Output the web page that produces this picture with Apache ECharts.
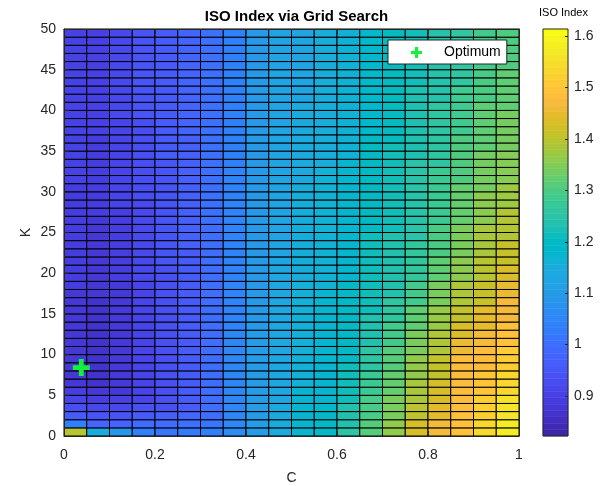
<!DOCTYPE html>
<html>
<head>
<meta charset="utf-8">
<script src="https://cdn.jsdelivr.net/npm/echarts@6/dist/echarts.min.js"></script>
<style>
  html, body { margin: 0; padding: 0; background: #fff; }
  #chart { width: 605px; height: 486px; }
</style>
</head>
<body>
<div id="chart"></div>
<script>
// Grid edges for C (columns) and K (rows)
const cEdges = [0, 0.05, 0.1, 0.15, 0.2, 0.25, 0.3, 0.35, 0.4, 0.45, 0.5,
                0.55, 0.6, 0.65, 0.7, 0.75, 0.8, 0.85, 0.9, 0.95, 1];
const kEdges = [0, 1, 2, 3, 4, 5, 6, 7, 8, 9, 10, 11, 12, 13, 14, 15, 16, 17, 18, 19, 20,
                21, 22, 23, 24, 25, 26, 27, 28, 29, 30, 31, 32, 33, 34, 35, 36, 37, 38, 39, 40,
                41, 42, 43, 44, 45, 46, 47, 48, 49, 50];

// Colour limits of the ISO index and colorbar tick values
const isoRange = [0.822, 1.614];
const cbTicks = [0.9, 1, 1.1, 1.2, 1.3, 1.4, 1.5, 1.6];

// Best (C, K) found by the search
const optimum = [0.038, 8.4];

// ISO index, one row per K cell (K = 0 .. 49), one value per C cell
const isoIndex = [
  [1.40, 1.14, 1.09, 1.03, 1.01, 1.02, 1.03, 1.06, 1.10, 1.14, 1.175, 1.19, 1.25, 1.31, 1.365, 1.43, 1.47, 1.497, 1.545, 1.585],
  [1.03, 0.975, 0.975, 0.99, 0.99, 1.00, 1.015, 1.05, 1.10, 1.14, 1.175, 1.19, 1.235, 1.31, 1.365, 1.43, 1.47, 1.497, 1.545, 1.585],
  [0.955, 0.94, 0.94, 0.955, 0.965, 0.98, 0.995, 1.05, 1.10, 1.14, 1.175, 1.19, 1.235, 1.295, 1.345, 1.405, 1.445, 1.497, 1.525, 1.565],
  [0.925, 0.91, 0.915, 0.93, 0.93, 0.955, 0.995, 1.05, 1.10, 1.14, 1.175, 1.19, 1.235, 1.295, 1.345, 1.405, 1.445, 1.485, 1.525, 1.565],
  [0.905, 0.89, 0.895, 0.905, 0.93, 0.955, 0.995, 1.05, 1.10, 1.13, 1.175, 1.175, 1.215, 1.295, 1.345, 1.385, 1.43, 1.485, 1.525, 1.565],
  [0.89, 0.875, 0.878, 0.905, 0.93, 0.955, 0.995, 1.05, 1.10, 1.13, 1.175, 1.175, 1.215, 1.28, 1.325, 1.385, 1.43, 1.485, 1.505, 1.54],
  [0.875, 0.862, 0.878, 0.905, 0.93, 0.955, 0.995, 1.05, 1.10, 1.13, 1.16, 1.175, 1.215, 1.28, 1.325, 1.385, 1.43, 1.485, 1.505, 1.54],
  [0.875, 0.862, 0.878, 0.905, 0.93, 0.955, 0.995, 1.05, 1.10, 1.13, 1.16, 1.175, 1.215, 1.28, 1.325, 1.365, 1.41, 1.485, 1.505, 1.54],
  [0.875, 0.862, 0.878, 0.905, 0.93, 0.955, 0.995, 1.05, 1.10, 1.13, 1.16, 1.175, 1.215, 1.255, 1.31, 1.365, 1.41, 1.485, 1.485, 1.52],
  [0.875, 0.862, 0.878, 0.905, 0.93, 0.955, 0.995, 1.05, 1.10, 1.13, 1.16, 1.175, 1.195, 1.255, 1.31, 1.365, 1.41, 1.485, 1.485, 1.52],
  [0.875, 0.862, 0.878, 0.905, 0.93, 0.955, 0.995, 1.05, 1.10, 1.13, 1.16, 1.175, 1.195, 1.255, 1.31, 1.345, 1.39, 1.46, 1.485, 1.52],
  [0.875, 0.862, 0.878, 0.905, 0.93, 0.955, 0.995, 1.05, 1.10, 1.13, 1.16, 1.175, 1.195, 1.235, 1.29, 1.345, 1.39, 1.46, 1.47, 1.497],
  [0.875, 0.862, 0.878, 0.905, 0.93, 0.955, 0.995, 1.05, 1.10, 1.13, 1.16, 1.175, 1.195, 1.235, 1.29, 1.345, 1.39, 1.435, 1.47, 1.497],
  [0.875, 0.862, 0.878, 0.905, 0.93, 0.955, 0.995, 1.043, 1.093, 1.13, 1.16, 1.175, 1.195, 1.235, 1.29, 1.32, 1.37, 1.435, 1.45, 1.497],
  [0.875, 0.862, 0.878, 0.905, 0.93, 0.955, 0.995, 1.043, 1.093, 1.13, 1.16, 1.175, 1.195, 1.235, 1.26, 1.32, 1.37, 1.41, 1.45, 1.472],
  [0.875, 0.862, 0.878, 0.905, 0.93, 0.955, 0.995, 1.043, 1.093, 1.13, 1.16, 1.175, 1.195, 1.215, 1.26, 1.32, 1.37, 1.41, 1.45, 1.472],
  [0.875, 0.862, 0.878, 0.905, 0.93, 0.955, 0.995, 1.043, 1.093, 1.13, 1.16, 1.175, 1.195, 1.215, 1.26, 1.29, 1.345, 1.39, 1.415, 1.472],
  [0.875, 0.875, 0.878, 0.905, 0.93, 0.955, 0.995, 1.043, 1.093, 1.13, 1.16, 1.175, 1.195, 1.215, 1.235, 1.29, 1.345, 1.39, 1.415, 1.455],
  [0.888, 0.875, 0.878, 0.905, 0.93, 0.955, 0.995, 1.043, 1.093, 1.13, 1.16, 1.162, 1.195, 1.215, 1.235, 1.29, 1.345, 1.39, 1.415, 1.455],
  [0.888, 0.875, 0.89, 0.915, 0.93, 0.955, 0.995, 1.043, 1.093, 1.13, 1.15, 1.162, 1.178, 1.215, 1.235, 1.265, 1.32, 1.36, 1.40, 1.435],
  [0.888, 0.875, 0.89, 0.915, 0.93, 0.955, 0.995, 1.043, 1.093, 1.13, 1.15, 1.162, 1.178, 1.215, 1.235, 1.265, 1.32, 1.36, 1.40, 1.435],
  [0.888, 0.875, 0.89, 0.915, 0.942, 0.955, 0.995, 1.043, 1.093, 1.12, 1.15, 1.162, 1.178, 1.215, 1.235, 1.265, 1.32, 1.36, 1.40, 1.415],
  [0.888, 0.875, 0.89, 0.915, 0.942, 0.955, 0.995, 1.043, 1.093, 1.12, 1.15, 1.162, 1.178, 1.215, 1.235, 1.265, 1.30, 1.345, 1.385, 1.415],
  [0.888, 0.875, 0.89, 0.915, 0.942, 0.965, 0.995, 1.043, 1.093, 1.12, 1.15, 1.162, 1.178, 1.215, 1.235, 1.265, 1.30, 1.345, 1.385, 1.415],
  [0.888, 0.875, 0.89, 0.915, 0.942, 0.965, 0.995, 1.043, 1.093, 1.12, 1.15, 1.162, 1.178, 1.215, 1.235, 1.245, 1.30, 1.345, 1.385, 1.395],
  [0.888, 0.875, 0.89, 0.915, 0.942, 0.965, 0.995, 1.043, 1.093, 1.12, 1.15, 1.162, 1.178, 1.20, 1.22, 1.245, 1.30, 1.345, 1.385, 1.395],
  [0.888, 0.875, 0.89, 0.915, 0.942, 0.965, 1.003, 1.043, 1.093, 1.12, 1.15, 1.162, 1.178, 1.20, 1.22, 1.245, 1.28, 1.325, 1.36, 1.395],
  [0.888, 0.888, 0.89, 0.915, 0.942, 0.965, 1.003, 1.043, 1.093, 1.12, 1.15, 1.162, 1.178, 1.20, 1.22, 1.245, 1.28, 1.325, 1.36, 1.395],
  [0.888, 0.888, 0.905, 0.915, 0.942, 0.965, 1.003, 1.043, 1.093, 1.12, 1.15, 1.162, 1.178, 1.20, 1.22, 1.245, 1.28, 1.325, 1.36, 1.375],
  [0.888, 0.888, 0.905, 0.928, 0.942, 0.965, 1.003, 1.043, 1.093, 1.12, 1.15, 1.162, 1.178, 1.20, 1.22, 1.245, 1.28, 1.325, 1.36, 1.375],
  [0.888, 0.888, 0.905, 0.928, 0.942, 0.965, 1.003, 1.043, 1.093, 1.12, 1.15, 1.162, 1.178, 1.20, 1.22, 1.245, 1.28, 1.325, 1.34, 1.375],
  [0.90, 0.888, 0.905, 0.928, 0.942, 0.965, 1.003, 1.043, 1.093, 1.12, 1.138, 1.162, 1.178, 1.20, 1.22, 1.245, 1.28, 1.305, 1.34, 1.355],
  [0.90, 0.888, 0.905, 0.928, 0.942, 0.965, 1.003, 1.043, 1.093, 1.12, 1.138, 1.162, 1.178, 1.20, 1.22, 1.245, 1.28, 1.305, 1.34, 1.355],
  [0.90, 0.888, 0.905, 0.928, 0.942, 0.965, 1.003, 1.035, 1.093, 1.12, 1.138, 1.148, 1.178, 1.20, 1.22, 1.245, 1.258, 1.305, 1.34, 1.355],
  [0.90, 0.888, 0.905, 0.928, 0.955, 0.965, 1.003, 1.035, 1.093, 1.12, 1.138, 1.148, 1.165, 1.20, 1.22, 1.23, 1.258, 1.305, 1.34, 1.355],
  [0.90, 0.888, 0.905, 0.928, 0.955, 0.965, 1.003, 1.035, 1.093, 1.12, 1.138, 1.148, 1.165, 1.20, 1.22, 1.23, 1.258, 1.305, 1.32, 1.34],
  [0.90, 0.888, 0.905, 0.928, 0.955, 0.965, 1.003, 1.035, 1.093, 1.12, 1.138, 1.148, 1.165, 1.20, 1.205, 1.23, 1.258, 1.305, 1.32, 1.34],
  [0.90, 0.898, 0.905, 0.928, 0.955, 0.978, 1.003, 1.035, 1.093, 1.12, 1.138, 1.148, 1.165, 1.185, 1.205, 1.23, 1.258, 1.285, 1.32, 1.34],
  [0.90, 0.898, 0.905, 0.928, 0.955, 0.978, 1.003, 1.035, 1.093, 1.12, 1.138, 1.148, 1.165, 1.185, 1.205, 1.23, 1.258, 1.285, 1.32, 1.34],
  [0.90, 0.898, 0.915, 0.94, 0.955, 0.978, 1.003, 1.035, 1.093, 1.12, 1.138, 1.148, 1.165, 1.185, 1.205, 1.23, 1.258, 1.285, 1.32, 1.34],
  [0.90, 0.898, 0.915, 0.94, 0.955, 0.978, 1.003, 1.035, 1.093, 1.12, 1.138, 1.148, 1.165, 1.185, 1.205, 1.23, 1.258, 1.285, 1.32, 1.32],
  [0.90, 0.898, 0.915, 0.94, 0.955, 0.978, 1.003, 1.035, 1.093, 1.12, 1.128, 1.148, 1.165, 1.185, 1.205, 1.23, 1.24, 1.285, 1.30, 1.32],
  [0.90, 0.898, 0.915, 0.94, 0.955, 0.978, 1.003, 1.035, 1.093, 1.12, 1.128, 1.148, 1.165, 1.185, 1.205, 1.23, 1.24, 1.285, 1.30, 1.32],
  [0.90, 0.898, 0.915, 0.94, 0.955, 0.978, 1.003, 1.035, 1.093, 1.12, 1.128, 1.148, 1.165, 1.185, 1.205, 1.218, 1.24, 1.26, 1.30, 1.32],
  [0.90, 0.898, 0.915, 0.94, 0.955, 0.978, 1.003, 1.035, 1.093, 1.12, 1.128, 1.148, 1.165, 1.185, 1.205, 1.218, 1.24, 1.26, 1.30, 1.32],
  [0.90, 0.898, 0.915, 0.94, 0.955, 0.978, 1.003, 1.035, 1.093, 1.12, 1.128, 1.148, 1.165, 1.185, 1.205, 1.218, 1.24, 1.26, 1.29, 1.305],
  [0.90, 0.898, 0.915, 0.94, 0.955, 0.978, 1.003, 1.035, 1.093, 1.12, 1.128, 1.148, 1.165, 1.185, 1.205, 1.218, 1.24, 1.26, 1.29, 1.305],
  [0.90, 0.898, 0.915, 0.94, 0.955, 0.978, 1.003, 1.035, 1.093, 1.12, 1.128, 1.148, 1.165, 1.185, 1.205, 1.218, 1.24, 1.26, 1.29, 1.305],
  [0.90, 0.898, 0.915, 0.94, 0.955, 0.978, 1.003, 1.035, 1.093, 1.12, 1.128, 1.148, 1.165, 1.185, 1.205, 1.218, 1.24, 1.26, 1.29, 1.305],
  [0.90, 0.898, 0.915, 0.94, 0.955, 0.978, 1.003, 1.035, 1.093, 1.12, 1.128, 1.148, 1.165, 1.185, 1.205, 1.218, 1.24, 1.26, 1.29, 1.305]
];

// Parula colour map, 64 entries
const parula = [
  '#3e26a8', '#402ab4', '#422ebf', '#4332cb', '#4537d5', '#463cde', '#4741e5', '#4747eb',
  '#484df0', '#4852f4', '#4758f8', '#465efb', '#4563fd', '#4269fe', '#3e6fff', '#3875fe',
  '#327cfc', '#2f81fa', '#2d87f7', '#2d8cf3', '#2b91ef', '#2796eb', '#259be7', '#23a0e5',
  '#20a5e3', '#1ca9df', '#18addb', '#12b1d6', '#08b5d0', '#01b8ca', '#02bac3', '#0bbdbc',
  '#19bfb6', '#24c1ae', '#2cc4a7', '#31c69f', '#37c897', '#3fca8e', '#4acb84', '#57cc7a',
  '#64cd6f', '#72cd64', '#80cc59', '#8fcb4e', '#9dc943', '#abc739', '#b9c431', '#c5c22a',
  '#d1bf27', '#dcbd29', '#e6bb2d', '#efba36', '#f8ba3d', '#febe3c', '#fec338', '#fec934',
  '#fccf30', '#f9d62d', '#f7dc2a', '#f5e327', '#f5e924', '#f5ef20', '#f7f51b', '#f9fb14'
];

const FONT = "'Liberation Sans', Arial, Helvetica, sans-serif";
const INK = '#262626';
const PLUS = 'path://M5,0h4v5h5v4h-5v5h-4v-5h-5v-4h5z';
const GREEN = '#14f03c';

// Cells: [cLeft, kBottom, cRight, kTop, value]
const cells = [];
isoIndex.forEach((row, ki) => {
  row.forEach((v, ci) => {
    cells.push([cEdges[ci], kEdges[ki], cEdges[ci + 1], kEdges[ki + 1], v]);
  });
});

// Colorbar bands, one per colour map entry
const bandStep = (isoRange[1] - isoRange[0]) / parula.length;
const bands = parula.map((col, i) =>
  [0, isoRange[0] + i * bandStep, 1, isoRange[0] + (i + 1) * bandStep, i]);

function rectItem(api) {
  const p0 = api.coord([api.value(0), api.value(1)]);
  const p1 = api.coord([api.value(2), api.value(3)]);
  return { x: p0[0], y: p1[1], width: p1[0] - p0[0], height: p0[1] - p1[1] };
}

const boxAxis = (extra) => Object.assign({
  type: 'value', z: 5,
  axisLine: { show: true, onZero: false, lineStyle: { color: INK, width: 1 } },
  axisTick: { show: true, inside: true, length: 5, lineStyle: { color: INK } },
  axisLabel: { show: false },
  splitLine: { show: false }
}, extra);

const chart = echarts.init(document.getElementById('chart'));
chart.setOption({
  animation: false,
  backgroundColor: '#fff',
  textStyle: { fontFamily: FONT },
  title: {
    text: 'ISO Index via Grid Search',
    left: 291.5, top: 4, textAlign: 'center',
    textStyle: { fontFamily: FONT, fontSize: 15, fontWeight: 'bold', color: '#000' }
  },
  graphic: [{
    type: 'text', left: 539, top: 7,
    style: { text: 'ISO Index', fontFamily: FONT, fontSize: 11, fill: '#000' }
  }],
  grid: [
    { left: 64, top: 29, width: 455, height: 407, outerBoundsMode: 'none', containLabel: false },
    { left: 543, top: 29, width: 25, height: 407, outerBoundsMode: 'none', containLabel: false }
  ],
  xAxis: [
    boxAxis({
      gridIndex: 0, min: 0, max: 1, interval: 0.2, position: 'bottom',
      name: 'C', nameLocation: 'middle', nameGap: 35, nameMoveOverlap: false,
      nameTextStyle: { fontFamily: FONT, fontSize: 14, color: INK },
      axisLabel: { show: true, margin: 12, fontFamily: FONT, fontSize: 14, color: INK }
    }),
    boxAxis({ gridIndex: 0, min: 0, max: 1, interval: 0.2, position: 'top' }),
    boxAxis({ gridIndex: 1, min: 0, max: 1, show: false })
  ],
  yAxis: [
    boxAxis({
      gridIndex: 0, min: 0, max: 50, interval: 5, position: 'left',
      name: 'K', nameLocation: 'middle', nameGap: 31, nameMoveOverlap: false,
      nameTextStyle: { fontFamily: FONT, fontSize: 14, color: INK },
      axisLabel: { show: true, margin: 8, fontFamily: FONT, fontSize: 14, color: INK }
    }),
    boxAxis({ gridIndex: 0, min: 0, max: 50, interval: 5, position: 'right' }),
    boxAxis({
      gridIndex: 1, min: isoRange[0], max: isoRange[1], position: 'right',
      axisLine: { show: false, onZero: false },
      axisTick: { show: true, inside: true, length: 3, customValues: cbTicks, lineStyle: { color: INK } },
      axisLabel: {
        show: true, margin: 6, fontFamily: FONT, fontSize: 14, color: INK,
        customValues: cbTicks,
        formatter: (v) => String(Math.round(v * 10) / 10)
      }
    })
  ],
  visualMap: {
    type: 'continuous', show: false, seriesIndex: 0, dimension: 4,
    min: isoRange[0], max: isoRange[1],
    inRange: { color: parula }
  },
  legend: {
    data: ['Optimum'],
    left: 388, top: 40,
    padding: [4, 6, 3, 23],
    itemWidth: 11, itemHeight: 11,
    icon: PLUS,
    itemStyle: { color: GREEN, opacity: 1 },
    backgroundColor: '#fff',
    borderColor: INK, borderWidth: 1, borderRadius: 0,
    textStyle: { fontFamily: FONT, fontSize: 14, color: '#000', lineHeight: 17, padding: [0, 0, 0, 17] }
  },
  series: [
    {
      type: 'custom', name: 'ISO Index', xAxisIndex: 0, yAxisIndex: 0,
      data: cells, encode: { x: [0, 2], y: [1, 3] },
      renderItem: (params, api) => ({
        type: 'rect', shape: rectItem(api),
        style: { fill: api.visual('color'), stroke: '#000', lineWidth: 1 }
      }),
      z: 2
    },
    {
      type: 'scatter', name: 'Optimum', xAxisIndex: 0, yAxisIndex: 0,
      data: [optimum], symbol: PLUS, symbolSize: 17,
      itemStyle: { color: GREEN, opacity: 1 }, z: 10
    },
    {
      type: 'custom', name: 'colorbar', xAxisIndex: 2, yAxisIndex: 2,
      data: bands, encode: { x: [0, 2], y: [1, 3] },
      renderItem: (params, api) => ({
        type: 'rect', shape: rectItem(api),
        style: { fill: parula[api.value(4)], stroke: parula[api.value(4)], lineWidth: 0.5 }
      }),
      z: 2
    },
    {
      type: 'custom', name: 'colorbar frame', xAxisIndex: 2, yAxisIndex: 2,
      data: [[0, isoRange[0], 1, isoRange[1]]], encode: { x: [0, 2], y: [1, 3] },
      renderItem: (params, api) => ({
        type: 'rect', shape: rectItem(api),
        style: { fill: 'none', stroke: INK, lineWidth: 1 }
      }),
      z: 3, silent: true
    }
  ]
});
</script>
</body>
</html>
